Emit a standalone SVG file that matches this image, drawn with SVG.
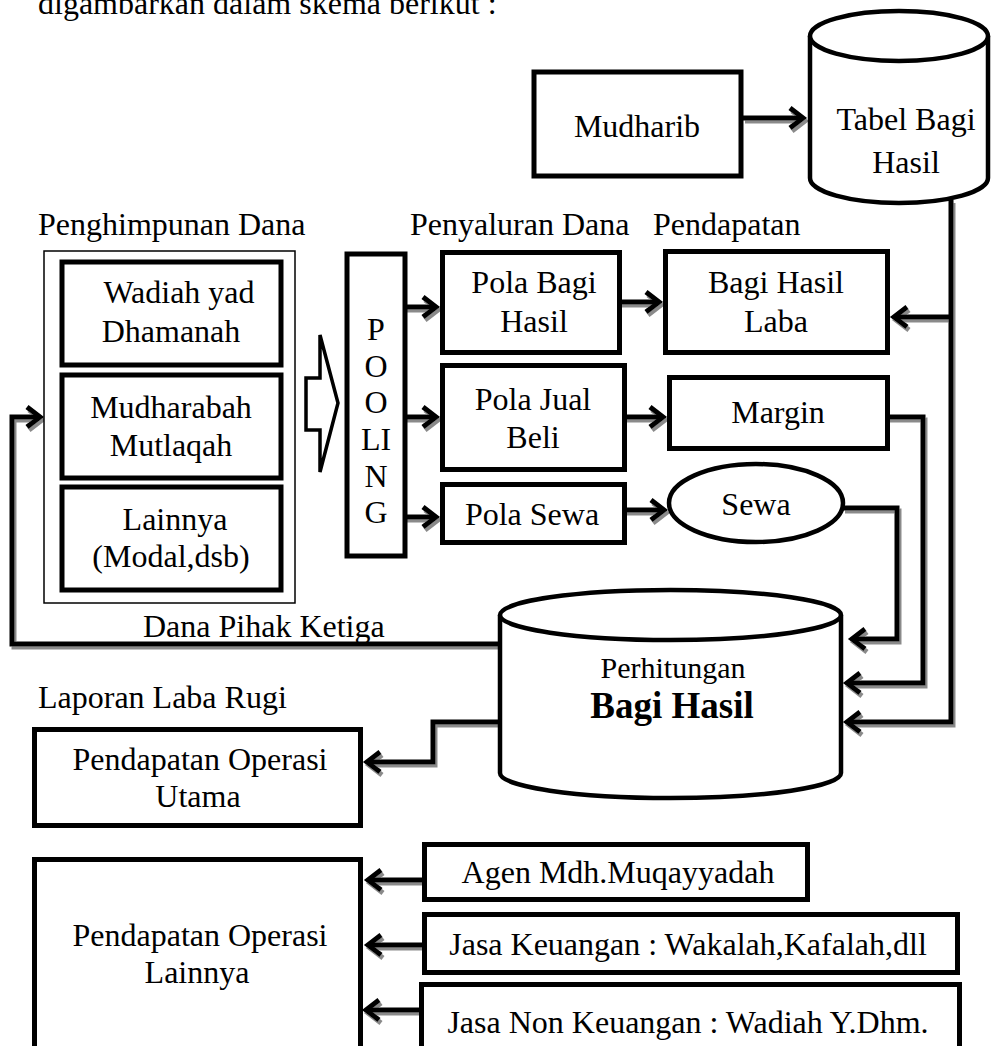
<svg xmlns="http://www.w3.org/2000/svg" width="993" height="1046" viewBox="0 0 993 1046">
<defs>
<style>
text{font-family:"Liberation Serif","Times New Roman",serif;font-size:32px;fill:#000}
.c{text-anchor:middle}
.box{fill:#fff;stroke:#000;stroke-width:5}
.thin{fill:#fff;stroke:#000;stroke-width:1.5}
.cyl{fill:#fff;stroke:#000;stroke-width:4.5}
.conn path{fill:none;stroke:#000;stroke-width:5;stroke-linejoin:miter}
.blk{fill:#fff;stroke:#000;stroke-width:3.5;stroke-linejoin:miter}
</style>
<marker id="ah" markerUnits="userSpaceOnUse" markerWidth="40" markerHeight="40" viewBox="-20 -20 40 40" refX="0" refY="0" orient="auto">
<path d="M-13,-10 L0,0 L-13,10" fill="none" stroke="#000" stroke-width="5"/>
</marker>
<filter id="sh" filterUnits="userSpaceOnUse" x="0" y="0" width="993" height="1046">
<feDropShadow dx="2" dy="3" stdDeviation="0.7" flood-color="#8a8a8a" flood-opacity="1"/>
</filter>
</defs>
<rect width="993" height="1046" fill="#fff"/>

<text x="38" y="14">digambarkan dalam skema berikut :</text>
<text x="38" y="235">Penghimpunan Dana</text>
<text x="410" y="235">Penyaluran Dana</text>
<text x="653" y="235">Pendapatan</text>
<text x="143" y="637">Dana Pihak Ketiga</text>
<text x="38" y="708">Laporan Laba Rugi</text>

<g class="conn" filter="url(#sh)">
<path d="M743,118 H803" marker-end="url(#ah)"/>
<path d="M404,307 H436" marker-end="url(#ah)"/>
<path d="M404,417 H436" marker-end="url(#ah)"/>
<path d="M404,517 H436" marker-end="url(#ah)"/>
<path d="M620,302 H659" marker-end="url(#ah)"/>
<path d="M625,417 H663" marker-end="url(#ah)"/>
<path d="M625,510 H664" marker-end="url(#ah)"/>
<path d="M951,200 V722 H847" marker-end="url(#ah)"/>
<path d="M951,317 H894" marker-end="url(#ah)"/>
<path d="M888,417 H923 V683 H847" marker-end="url(#ah)"/>
<path d="M843,508 H897 V639 H852" marker-end="url(#ah)"/>
<path d="M500,644 H12 V417 H40" marker-end="url(#ah)"/>
<path d="M500,722 H433 V762 H367" marker-end="url(#ah)"/>
<path d="M424,880 H368" marker-end="url(#ah)"/>
<path d="M424,945 H368" marker-end="url(#ah)"/>
<path d="M421,1010 H366" marker-end="url(#ah)"/>
</g>

<g id="mudharib">
<rect class="box" x="534" y="72" width="207" height="104" stroke-width="4.5"/>
<text class="c" x="637" y="137">Mudharib</text>
</g>

<g id="tabel-bagi-hasil">
<path class="cyl" d="M810,36 V178 A89,25 0 0 0 988,178 V36"/>
<ellipse class="cyl" cx="899" cy="36" rx="89" ry="25"/>
<text class="c" x="906" y="130">Tabel Bagi</text>
<text class="c" x="906" y="173">Hasil</text>
</g>

<g id="penghimpunan">
<rect class="thin" x="44" y="251" width="251" height="352"/>
</g>
<g id="wadiah">
<rect class="box" x="62" y="262" width="219" height="103"/>
<text class="c" x="179" y="303">Wadiah yad</text>
<text class="c" x="171" y="342">Dhamanah</text>
</g>
<g id="mudharabah">
<rect class="box" x="62" y="375" width="219" height="103"/>
<text class="c" x="171" y="418">Mudharabah</text>
<text class="c" x="171" y="456">Mutlaqah</text>
</g>
<g id="lainnya-dana">
<rect class="box" x="62" y="487" width="219" height="103"/>
<text class="c" x="175" y="530">Lainnya</text>
<text class="c" x="171" y="567">(Modal,dsb)</text>
</g>

<g id="block-arrow">
<polygon class="blk" points="306,378 320,378 320,335 338,403 320,472 320,430 306,430"/>
</g>

<g id="pooling">
<rect class="box" x="347" y="254" width="58" height="302"/>
<text class="c" x="376" y="340">P</text>
<text class="c" x="376" y="377">O</text>
<text class="c" x="376" y="413">O</text>
<text class="c" x="376" y="450">LI</text>
<text class="c" x="376" y="487">N</text>
<text class="c" x="376" y="523">G</text>
</g>

<g id="pola-bagi-hasil">
<rect class="box" x="442.5" y="252.5" width="177" height="100"/>
<text class="c" x="534" y="293">Pola Bagi</text>
<text class="c" x="534" y="332">Hasil</text>
</g>
<g id="pola-jual-beli">
<rect class="box" x="442.5" y="365.5" width="182" height="104"/>
<text class="c" x="533" y="410">Pola Jual</text>
<text class="c" x="533" y="448">Beli</text>
</g>
<g id="pola-sewa">
<rect class="box" x="442.5" y="484.5" width="182" height="58"/>
<text class="c" x="532" y="525">Pola Sewa</text>
</g>

<g id="bagi-hasil-laba">
<rect class="box" x="665.5" y="251.5" width="222" height="101"/>
<text class="c" x="776" y="293">Bagi Hasil</text>
<text class="c" x="776" y="332">Laba</text>
</g>
<g id="margin">
<rect class="box" x="669.5" y="377.5" width="218" height="71"/>
<text class="c" x="778" y="423">Margin</text>
</g>
<g id="sewa">
<ellipse class="cyl" cx="756" cy="503" rx="87" ry="39"/>
<text class="c" x="756" y="515">Sewa</text>
</g>

<g id="perhitungan">
<path class="cyl" d="M500,615 V773 A170.5,25 0 0 0 841,773 V615"/>
<ellipse class="cyl" cx="670.5" cy="615" rx="170.5" ry="25"/>
<text class="c" x="673" y="678" style="font-size:30px">Perhitungan</text>
<text class="c" x="672" y="718" style="font-size:37px;font-weight:bold">Bagi Hasil</text>
</g>

<g id="pendapatan-utama">
<rect class="box" x="34.5" y="729.5" width="326" height="96"/>
<text class="c" x="200" y="770">Pendapatan Operasi</text>
<text class="c" x="198" y="807">Utama</text>
</g>

<g id="pendapatan-lainnya">
<rect class="box" x="34.5" y="859.5" width="326" height="200"/>
<text class="c" x="200" y="946">Pendapatan Operasi</text>
<text class="c" x="197" y="983">Lainnya</text>
</g>

<g id="agen">
<rect class="box" x="424.5" y="844.5" width="383" height="55"/>
<text class="c" x="618" y="883">Agen Mdh.Muqayyadah</text>
</g>
<g id="jasa-keuangan">
<rect class="box" x="424.5" y="914.5" width="533" height="58"/>
<text class="c" x="688" y="955">Jasa Keuangan : Wakalah,Kafalah,dll</text>
</g>
<g id="jasa-non-keuangan">
<rect class="box" x="421.5" y="984.5" width="538" height="100"/>
<text class="c" x="688" y="1033">Jasa Non Keuangan : Wadiah Y.Dhm.</text>
</g>
</svg>
